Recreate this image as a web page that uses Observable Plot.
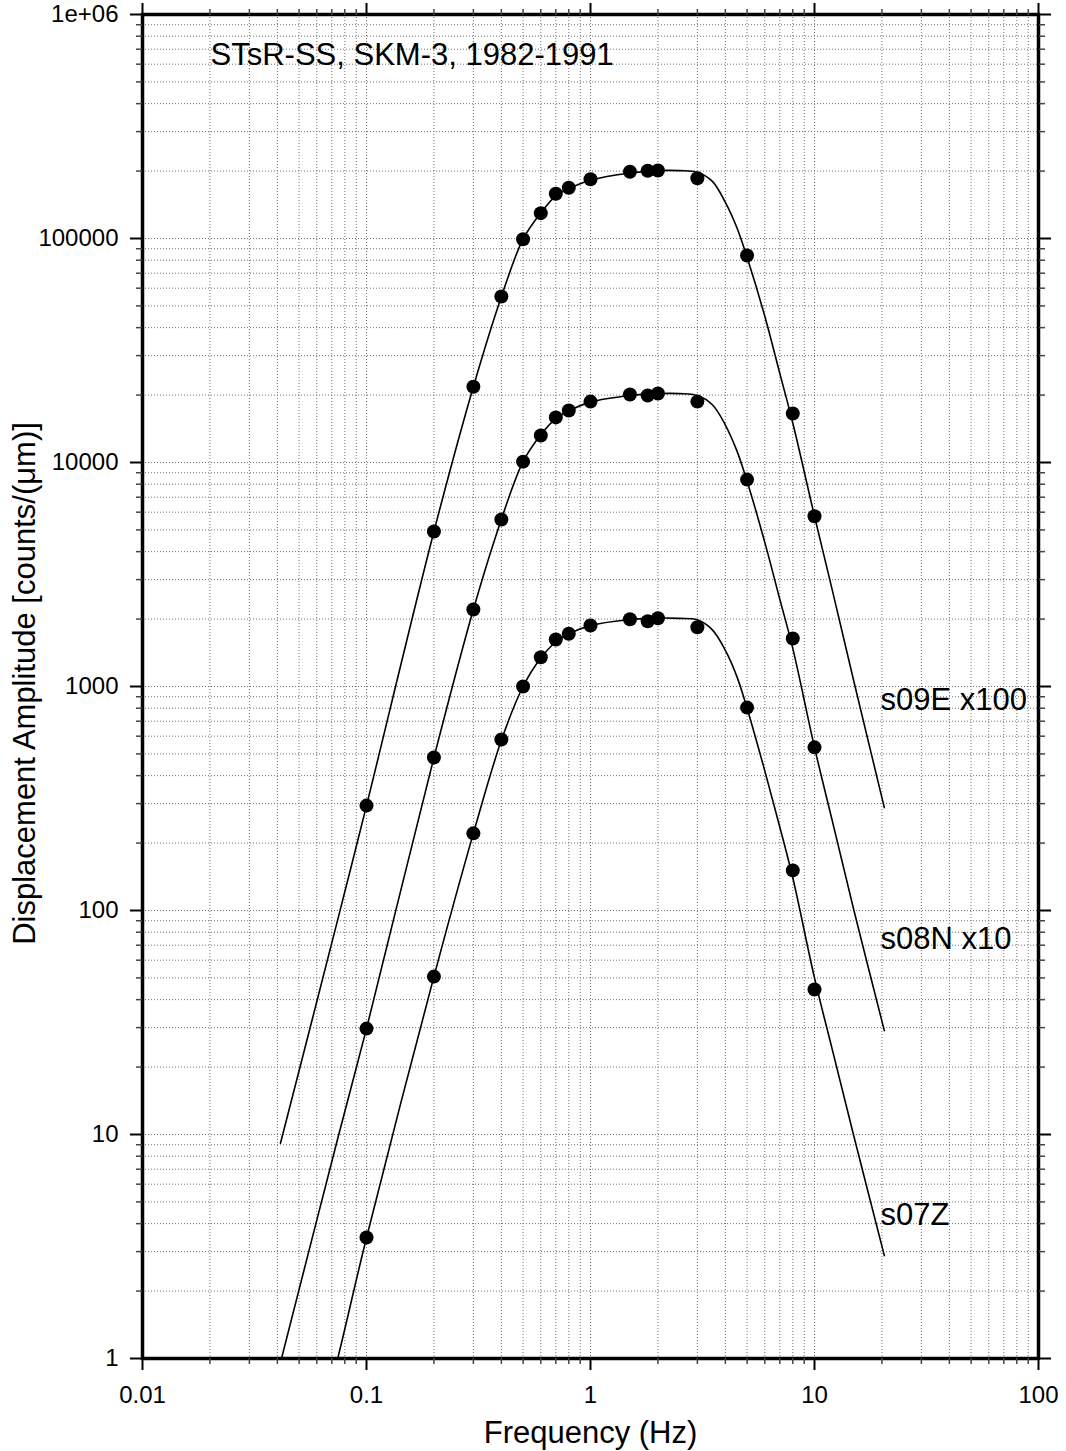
<!DOCTYPE html>
<html><head><meta charset="utf-8">
<script src="https://cdn.jsdelivr.net/npm/d3@7"></script>
<script src="https://cdn.jsdelivr.net/npm/@observablehq/plot@0.6"></script>
<style>
html,body{margin:0;padding:0;background:#fff;}
</style>
</head><body><div id="chart"></div>
<script>
// measured points (frequency in Hz, amplitude in counts/um)
const dotFreq = [0.1,0.2,0.3,0.4,0.5,0.6,0.7,0.8,1.0,1.5,1.8,2.0,3.0,5.0,8.0,10.0];
const s07Z = [3.47,50.7,221,580,1000,1351,1621,1719,1872,1997,1957,2018,1839,805,151,44.4];
const s08N = [29.7,482,2208,5570,10090,13200,15900,17070,18700,20120,19900,20330,18700,8390,1637,535];
const s09E = [294,4920,21800,55080,99300,129800,158300,168400,184000,198600,200600,201200,185800,84000,16560,5757];

// response curves
const curveFreq = [0.0413,0.0744,0.1,0.2,0.3,0.4,0.5,0.6,0.7,0.8,1.0,1.5,2.0,2.5,3.0,3.5,4.0,4.5,5.0,6.0,7.0,8.0,10,12,15,20.5];
const s07Zcurve = [0.095,1.0,3.46,50.7,221,575,1000,1340,1580,1720,1870,1990,2020,2015,1985,1790,1450,1110,800,420,236,140,50,24,9.8,2.88];
const s08Ncurve = [0.96,9.6,29.7,482,2208,5570,10090,13300,15700,17000,18600,19900,20300,20300,19900,18100,14700,11300,8250,4400,2450,1480,535,252,100,29.1];
const s09Ecurve = [9.14,91,294,4920,21800,55000,99300,130000,155000,167000,182000,196000,201000,201000,197700,180000,145000,112000,82500,45000,25000,15000,5757,2700,1050,288];

const seriesNames = ["s07Z","s08N","s09E"];
const seriesLabels = ["s07Z","s08N x10","s09E x100"];

const xMajor = [0.01,0.1,1,10,100];
const xMajorLabels = ["0.01","0.1","1","10","100"];
const yMajor = [1,10,100,1000,10000,100000,1000000];
const yMajorLabels = ["1","10","100","1000","10000","100000","1e+06"];

const titleText = "STsR-SS, SKM-3, 1982-1991";
const xLabel = "Frequency (Hz)";
const yLabel = "Displacement Amplitude [counts/(μm)]";

// build tables
const dotsBySeries = [s07Z, s08N, s09E];
const curvesBySeries = [s07Zcurve, s08Ncurve, s09Ecurve];
const dotRows = [];
const curveRows = [];
seriesNames.forEach((s, k) => {
  dotFreq.forEach((f, i) => dotRows.push({f, v: dotsBySeries[k][i], s}));
  curveFreq.forEach((f, i) => curveRows.push({f, v: curvesBySeries[k][i], s}));
});

const isMajor = v => Math.abs(Math.log10(v) - Math.round(Math.log10(v))) < 1e-6;
const xAll = d3.scaleLog().domain([0.01, 100]).ticks();
const yAll = d3.scaleLog().domain([1, 1e6]).ticks();
const xMinor = xAll.filter(v => !isMajor(v));
const yMinor = yAll.filter(v => !isMajor(v));

const fmtX = d => xMajorLabels[xMajor.findIndex(m => Math.abs(m - d) / m < 1e-6)];
const fmtY = d => yMajorLabels[yMajor.findIndex(m => Math.abs(m - d) / m < 1e-6)];
const blank = () => "";

const grid = {stroke: "#707070", strokeWidth: 1, strokeDasharray: "1,2"};
const major = {tickSize: 12, stroke: "black", strokeWidth: 2, label: null, tickFormat: blank};
const minor = {tickSize: 6, stroke: "#444", strokeWidth: 1.5, tickFormat: blank, label: null};

const chart = Plot.plot({
  width: 1066,
  height: 1451,
  marginLeft: 142,
  marginRight: 28,
  marginTop: 14,
  marginBottom: 93,
  style: {fontFamily: "'Liberation Sans', Arial, Helvetica, sans-serif", fontSize: "24px", background: "white", color: "black"},
  x: {type: "log", domain: [0.01, 100], label: null},
  y: {type: "log", domain: [1, 1e6], label: null},
  marks: [
    Plot.ruleX(xAll, grid),
    Plot.ruleY(yAll, grid),
    Plot.line(curveRows, {x: "f", y: "v", z: "s", curve: "catmull-rom", stroke: "black", strokeWidth: 1.6, clip: true}),
    Plot.dot(dotRows, {x: "f", y: "v", r: 7, fill: "black", stroke: "none"}),
    Plot.frame({stroke: "black", strokeWidth: 3.5}),
    Plot.axisX(xMinor, {anchor: "bottom", ...minor}),
    Plot.axisX(xMinor, {anchor: "top", ...minor}),
    Plot.axisY(yMinor, {anchor: "left", ...minor}),
    Plot.axisY(yMinor, {anchor: "right", ...minor}),
    Plot.axisX(xMajor, {anchor: "bottom", ...major}),
    Plot.axisX(xMajor, {anchor: "top", ...major}),
    Plot.axisY(yMajor, {anchor: "left", ...major}),
    Plot.axisY(yMajor, {anchor: "right", ...major}),
    // tick labels
    Plot.text(xMajor, {x: d => d, text: fmtX, frameAnchor: "bottom", textAnchor: "middle", lineAnchor: "middle", dy: 37, fontSize: 24}),
    Plot.text(yMajor, {y: d => d, text: fmtY, frameAnchor: "left", textAnchor: "end", lineAnchor: "middle", dx: -24, fontSize: 24}),
    // title and labels
    Plot.text([titleText], {frameAnchor: "top-left", dx: 68, dy: 41, textAnchor: "start", lineAnchor: "middle", fontSize: 31}),
    Plot.text(seriesLabels, {x: () => 19.7, y: [4.37, 74.6, 871], text: d => d, textAnchor: "start", lineAnchor: "middle", fontSize: 31}),
    Plot.text([xLabel], {frameAnchor: "bottom", textAnchor: "middle", dy: 75, lineAnchor: "middle", fontSize: 31}),
    Plot.text([yLabel], {frameAnchor: "left", textAnchor: "middle", dx: -117, dy: -3, rotate: -90, lineAnchor: "middle", fontSize: 31})
  ]
});
document.getElementById("chart").appendChild(chart);
</script>
</body></html>
